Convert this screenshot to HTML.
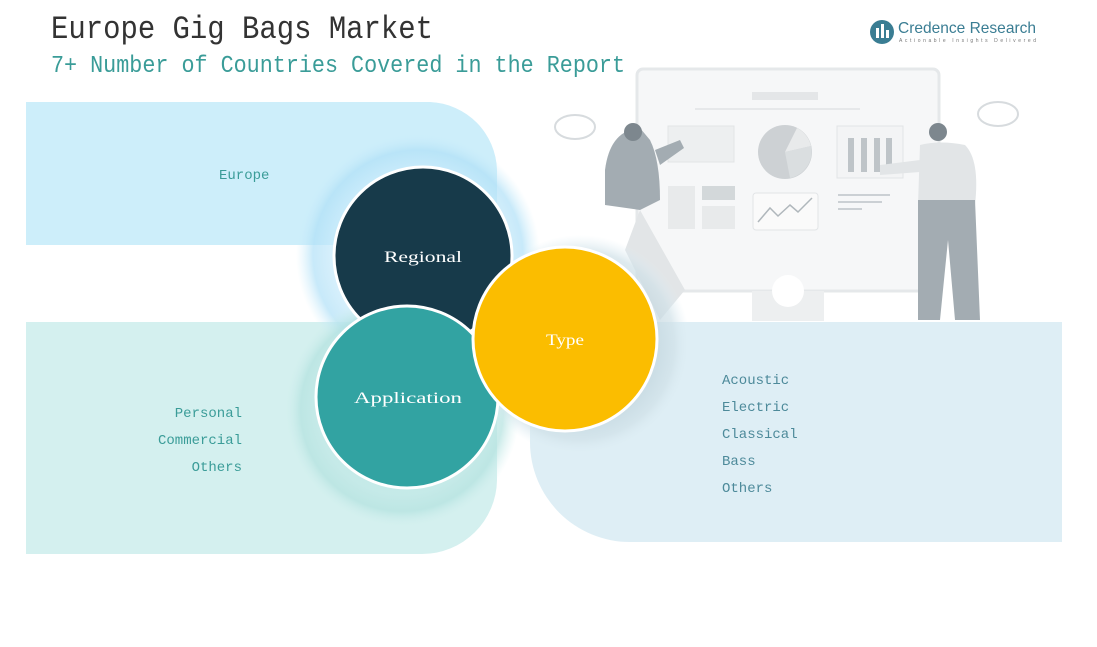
<!DOCTYPE html>
<html><head><meta charset="utf-8"><style>
html,body{margin:0;padding:0;background:#fff;width:1097px;height:647px;overflow:hidden;font-family:"Liberation Mono",monospace}
</style></head><body>
<svg width="1097" height="647" viewBox="0 0 1097 647" xmlns="http://www.w3.org/2000/svg" font-family="Liberation Mono, monospace">
<defs>
<radialGradient id="gb" cx="0.5" cy="0.5" r="0.5"><stop offset="0.72" stop-color="#c3e8fa"/><stop offset="0.86" stop-color="#b0e0f7"/><stop offset="1" stop-color="#cdeefa" stop-opacity="0"/></radialGradient>
<radialGradient id="gt" cx="0.5" cy="0.5" r="0.5"><stop offset="0.72" stop-color="#bfe7e5"/><stop offset="0.86" stop-color="#b3e2df"/><stop offset="1" stop-color="#d4f0ef" stop-opacity="0"/></radialGradient>
<radialGradient id="gg" cx="0.5" cy="0.5" r="0.5"><stop offset="0.72" stop-color="#c4d7df"/><stop offset="0.86" stop-color="#d0e1e8"/><stop offset="1" stop-color="#deeef5" stop-opacity="0"/></radialGradient>
</defs>
<path d="M26 102 H430 A70 70 0 0 1 497 170 V245 H26 Z" fill="#cdeefa"/>
<path d="M26 322 H497 V480 A75 75 0 0 1 422 554 H26 Z" fill="#d4f0ef"/>
<path d="M530 322 H1062 V542 H630 A100 100 0 0 1 530 442 Z" fill="#deeef5"/>
<g opacity="0.9">
<rect x="637" y="69" width="302" height="222" rx="6" fill="#f6f7f8" stroke="#e3e6e8" stroke-width="3"/>
<rect x="752" y="92" width="66" height="8" fill="#e2e4e6"/>
<line x1="695" y1="109" x2="860" y2="109" stroke="#e4e6e8" stroke-width="2"/>
<rect x="668" y="126" width="66" height="36" fill="#eceeef" stroke="#dfe2e4"/>
<circle cx="785" cy="152" r="27" fill="#c8cdd0"/>
<path d="M785 152 L797 128 A27 27 0 0 1 811 146 Z" fill="#e6e8e9"/>
<path d="M785 152 L811 146 A27 27 0 0 1 790 178 Z" fill="#d7dbdd"/>
<rect x="837" y="126" width="66" height="52" fill="#f2f3f4" stroke="#dfe2e4"/>
<rect x="848" y="138" width="6" height="34" fill="#b7bec3"/><rect x="861" y="138" width="6" height="34" fill="#b7bec3"/><rect x="874" y="138" width="6" height="34" fill="#b7bec3"/><rect x="886" y="138" width="6" height="30" fill="#b7bec3"/>
<rect x="668" y="186" width="27" height="43" fill="#e6e8e9"/><rect x="702" y="186" width="33" height="14" fill="#cfd4d7"/><rect x="702" y="206" width="33" height="23" fill="#e6e8e9"/>
<rect x="753" y="193" width="65" height="37" rx="3" fill="#fafafa" stroke="#dfe2e4"/>
<polyline points="758,222 770,208 778,216 790,205 798,212 812,198" fill="none" stroke="#a8b0b5" stroke-width="1.5"/>
<line x1="838" y1="195" x2="890" y2="195" stroke="#c6ccd0" stroke-width="2"/><line x1="838" y1="202" x2="882" y2="202" stroke="#c6ccd0" stroke-width="2"/><line x1="838" y1="209" x2="862" y2="209" stroke="#c6ccd0" stroke-width="2"/>
<rect x="752" y="291" width="72" height="30" fill="#eceeef"/>
<circle cx="788" cy="291" r="16" fill="#fff"/>
<path d="M605 170 Q610 130 640 128 L650 140 Q660 160 660 200 L640 210 L605 205 Z" fill="#9aa4aa"/>
<circle cx="633" cy="132" r="9" fill="#6f7b82"/>
<path d="M640 210 L685 290 L660 320 L625 250 Z" fill="#dfe3e5"/>
<path d="M655 150 L680 140 L684 148 L660 165 Z" fill="#9aa4aa"/>
<path d="M920 145 Q940 140 965 145 Q980 160 975 205 L918 205 Z" fill="#dfe3e5"/>
<circle cx="938" cy="132" r="9" fill="#6f7b82"/>
<path d="M918 200 L975 200 L980 320 L955 320 L948 240 L940 320 L918 320 Z" fill="#9aa4aa"/>
<path d="M880 165 L920 160 L920 172 L880 175 Z" fill="#dfe3e5"/>
<ellipse cx="575" cy="127" rx="20" ry="12" fill="#fff" stroke="#d3d8db" stroke-width="2"/>
<ellipse cx="998" cy="114" rx="20" ry="12" fill="#fff" stroke="#d3d8db" stroke-width="2"/>
</g>
<circle cx="418" cy="255" r="122" fill="url(#gb)" opacity="0.7"/>
<circle cx="402" cy="410" r="118" fill="url(#gt)" opacity="0.7"/>
<circle cx="580" cy="345" r="110" fill="url(#gg)" opacity="0.7"/>
<circle cx="423" cy="256" r="89" fill="#173a4a" stroke="#fff" stroke-width="3"/>
<circle cx="407" cy="397" r="91" fill="#32a3a2" stroke="#fff" stroke-width="3"/>
<circle cx="565" cy="339" r="92" fill="#fbbd00" stroke="#fff" stroke-width="3"/>
<g fill="#fff" font-size="16" text-anchor="middle" font-family="Liberation Serif, serif">
<text x="423" y="262" textLength="78" lengthAdjust="spacingAndGlyphs">Regional</text>
<text x="408" y="403" textLength="108" lengthAdjust="spacingAndGlyphs">Application</text>
<text x="565" y="345" textLength="38" lengthAdjust="spacingAndGlyphs">Type</text>
</g>
<g fill="#3a9c98" font-size="14">
<text x="219" y="179">Europe</text>
<text x="242" y="417" text-anchor="end">Personal</text>
<text x="242" y="444" text-anchor="end">Commercial</text>
<text x="242" y="471" text-anchor="end">Others</text>
</g>
<g fill="#4d8a9a" font-size="14">
<text x="722" y="384">Acoustic</text>
<text x="722" y="411">Electric</text>
<text x="722" y="438">Classical</text>
<text x="722" y="465">Bass</text>
<text x="722" y="492">Others</text>
</g>
<text x="51" y="38" font-size="32" fill="#333" textLength="382" lengthAdjust="spacingAndGlyphs">Europe Gig Bags Market</text>
<text x="51" y="72" font-size="24" fill="#3a9c98" textLength="574" lengthAdjust="spacingAndGlyphs">7+ Number of Countries Covered in the Report</text>
<circle cx="882" cy="32" r="12" fill="#3a7d93"/>
<rect x="876" y="28" width="3" height="10" fill="#fff"/><rect x="881" y="24" width="3" height="14" fill="#fff"/><rect x="886" y="30" width="3" height="8" fill="#fff"/>
<text x="898" y="33" font-family="Liberation Sans, sans-serif" font-size="16" fill="#3a7d93" textLength="138" lengthAdjust="spacingAndGlyphs">Credence Research</text>
<text x="899" y="42" font-family="Liberation Sans, sans-serif" font-size="5" fill="#777" textLength="137" lengthAdjust="spacing">Actionable Insights Delivered</text>
</svg>
</body></html>
